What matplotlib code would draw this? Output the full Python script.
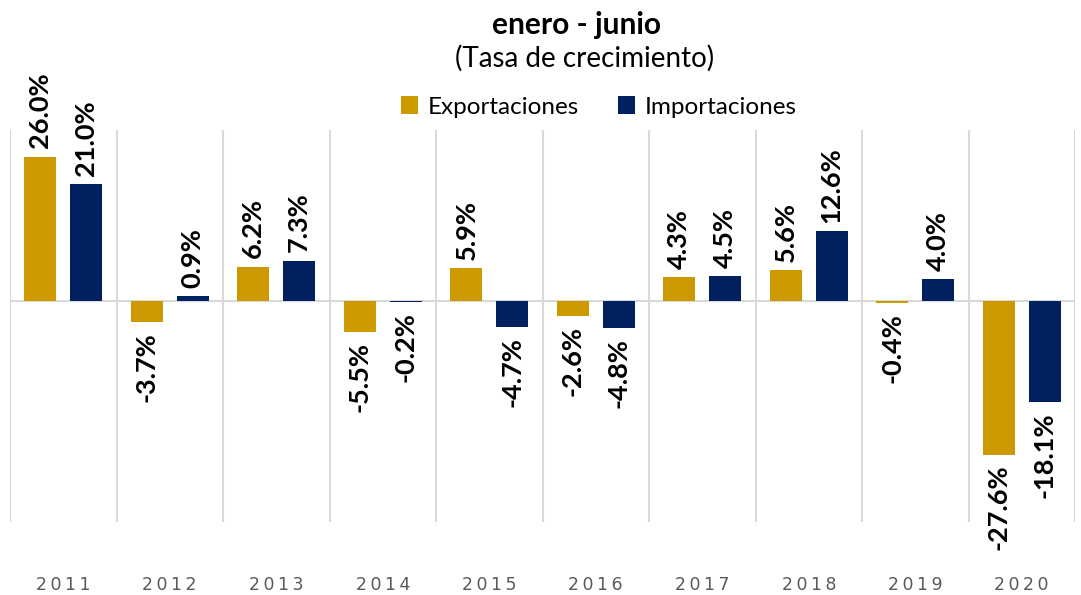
import matplotlib.pyplot as plt
import numpy as np

years = ["2011", "2012", "2013", "2014", "2015", "2016", "2017", "2018", "2019", "2020"]
exportaciones = [26.0, -3.7, 6.2, -5.5, 5.9, -2.6, 4.3, 5.6, -0.4, -27.6]
importaciones = [21.0, 0.9, 7.3, -0.2, -4.7, -4.8, 4.5, 12.6, 4.0, -18.1]

gold = "#CC9900"
navy = "#002060"

plt.rcParams["font.family"] = ["Lato", "DejaVu Sans"]

fig = plt.figure(figsize=(10.81, 5.95), dpi=100)
ax = fig.add_axes([10 / 1081, 1 - 522 / 595, 1065 / 1081, 392 / 595])

x = np.arange(len(years))
w = 0.3
off = 0.215
ax.bar(x - off, exportaciones, w, color=gold, label="Exportaciones")
ax.bar(x + off, importaciones, w, color=navy, label="Importaciones")

for xs, vals in [(x - off, exportaciones), (x + off, importaciones)]:
    for xi, v in zip(xs, vals):
        if v >= 0:
            ax.text(xi, v + 1.5, f"{v:.1f}%", rotation=90, ha="center", va="bottom",
                    fontsize=19.5, fontweight="bold", color="black")
        else:
            ax.text(xi, v - 1.8, f"{v:.1f}%", rotation=90, ha="center", va="top",
                    fontsize=19.5, fontweight="bold", color="black")

for b in np.arange(-0.5, len(years), 1):
    ax.axvline(b, color="#D9D9D9", lw=1.5, zorder=0)
ax.axhline(0, color="#D9D9D9", lw=1.5, zorder=0)

ax.set_xlim(-0.5, len(years) - 0.5)
ax.set_ylim(-39.7, 30.8)
ax.set_yticks([])
ax.set_xticks([])
for s in ax.spines.values():
    s.set_visible(False)

for xi, y in zip(x, years):
    ax.text(xi, -51.0, "\u2009".join(y), ha="center", va="center", fontsize=12.5,
            color="#595959", family=["DejaVu Sans"])

fig.text(576 / 1081, 1 - 25 / 595, "enero - junio", ha="center", va="center",
         fontsize=21.5, fontweight="bold")
fig.text(585 / 1081, 1 - 58 / 595, "(Tasa de crecimiento)", ha="center", va="center",
         fontsize=20)
fig.legend(loc="center", bbox_to_anchor=(599 / 1081, 1 - 107 / 595), ncol=2, frameon=False,
           fontsize=17.5, handlelength=0.7, handleheight=0.7, columnspacing=1.6,
           handletextpad=0.4)

fig.savefig("out.png", dpi=100)
